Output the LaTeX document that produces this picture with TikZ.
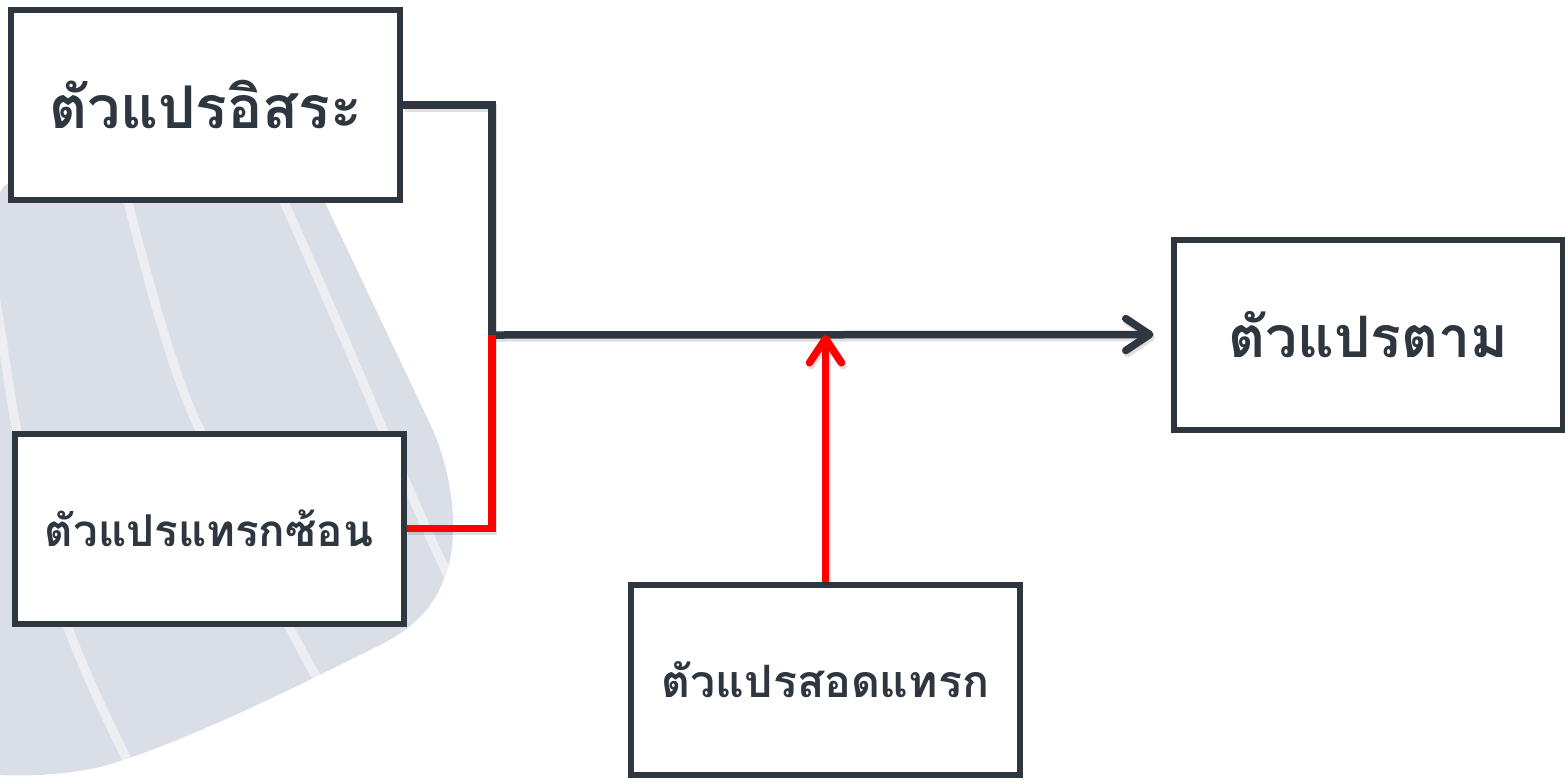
\documentclass[tikz,border=0pt]{standalone}
\usepackage{fontspec}
\usepackage{graphicx}
\usetikzlibrary{arrows.meta}
\newfontfamily\thaifont[Script=Thai]{Loma}
\definecolor{ink}{HTML}{2E363F}
\definecolor{blobc}{HTML}{DADEE6}
\definecolor{redline}{HTML}{FF0000}
\begin{document}
\begin{tikzpicture}[x=1pt,y=-1pt,
  box/.style={draw=ink,line width=6pt,fill=white,minimum width=389pt,minimum height=190pt,inner sep=0pt,text=ink,font=\thaifont\bfseries},
  conn/.style={line width=7.5pt},
  tipx/.style={-{Straight Barb[length=24pt,width=32pt,round]}},
  shadowline/.style={draw=black,opacity=0.12,transform canvas={shift={(1.5pt,-3pt)}}},
  stripe/.style={draw=white,opacity=0.5,line width=9pt}
]
\useasboundingbox (0,0) rectangle (1565,780);
\fill[white] (0,0) rectangle (1565,780);

% background blob
\begin{scope}
\path[clip] (0,195) .. controls (0,186) and (10,180) .. (30,177) -- (290,165)
  .. controls (305,165) and (314,178) .. (320,192) -- (433,430)
  .. controls (450,470) and (458,520) .. (450,560)
  .. controls (440,600) and (420,625) .. (380,645)
  .. controls (300,685) and (180,745) .. (100,767)
  .. controls (60,776) and (20,776) .. (0,775) -- cycle;
\fill[blobc] (0,150) rectangle (480,790);
\draw[stripe] (120,170) .. controls (150,290) and (175,380) .. (200,430) .. controls (240,520) and (270,600) .. (330,700);
\draw[stripe] (270,170) .. controls (310,260) and (350,350) .. (383,430) .. controls (410,490) and (430,540) .. (460,600);
\draw[stripe] (-8,280) .. controls (5,350) and (10,400) .. (17,430) .. controls (35,530) and (50,610) .. (135,775);
\end{scope}

% boxes
\node[box] (A) at (205.5,105) {\resizebox{313pt}{!}{ตัวแปรอิสระ}};
\node[box] (B) at (209,528.5) {\resizebox{328pt}{!}{ตัวแปรแทรกซ้อน}};
\node[box] (C) at (1368,334.5) {\resizebox{280pt}{!}{ตัวแปรตาม}};
\node[box] (D) at (825.5,679.5) {\resizebox{327pt}{!}{ตัวแปรสอดแทรก}};

\coordinate (J) at (492,335);

% shadows
\draw[conn,shadowline] (A.east) -| (J);
\draw[conn,shadowline,tipx,shorten >=17pt] (J) -- (C.west);
\draw[conn,shadowline] (B.east) -| (J);
\draw[conn,shadowline,tipx] (D.north) -- (D.north |- J);

% connectors
\draw[conn,ink] (A.east) -| (J);
\draw[conn,ink,tipx,shorten >=17pt] (J) -- (C.west);
\draw[conn,redline] (B.east) -| (J);
\draw[conn,redline,tipx] (D.north) -- (D.north |- J);
\end{tikzpicture}
\end{document}
